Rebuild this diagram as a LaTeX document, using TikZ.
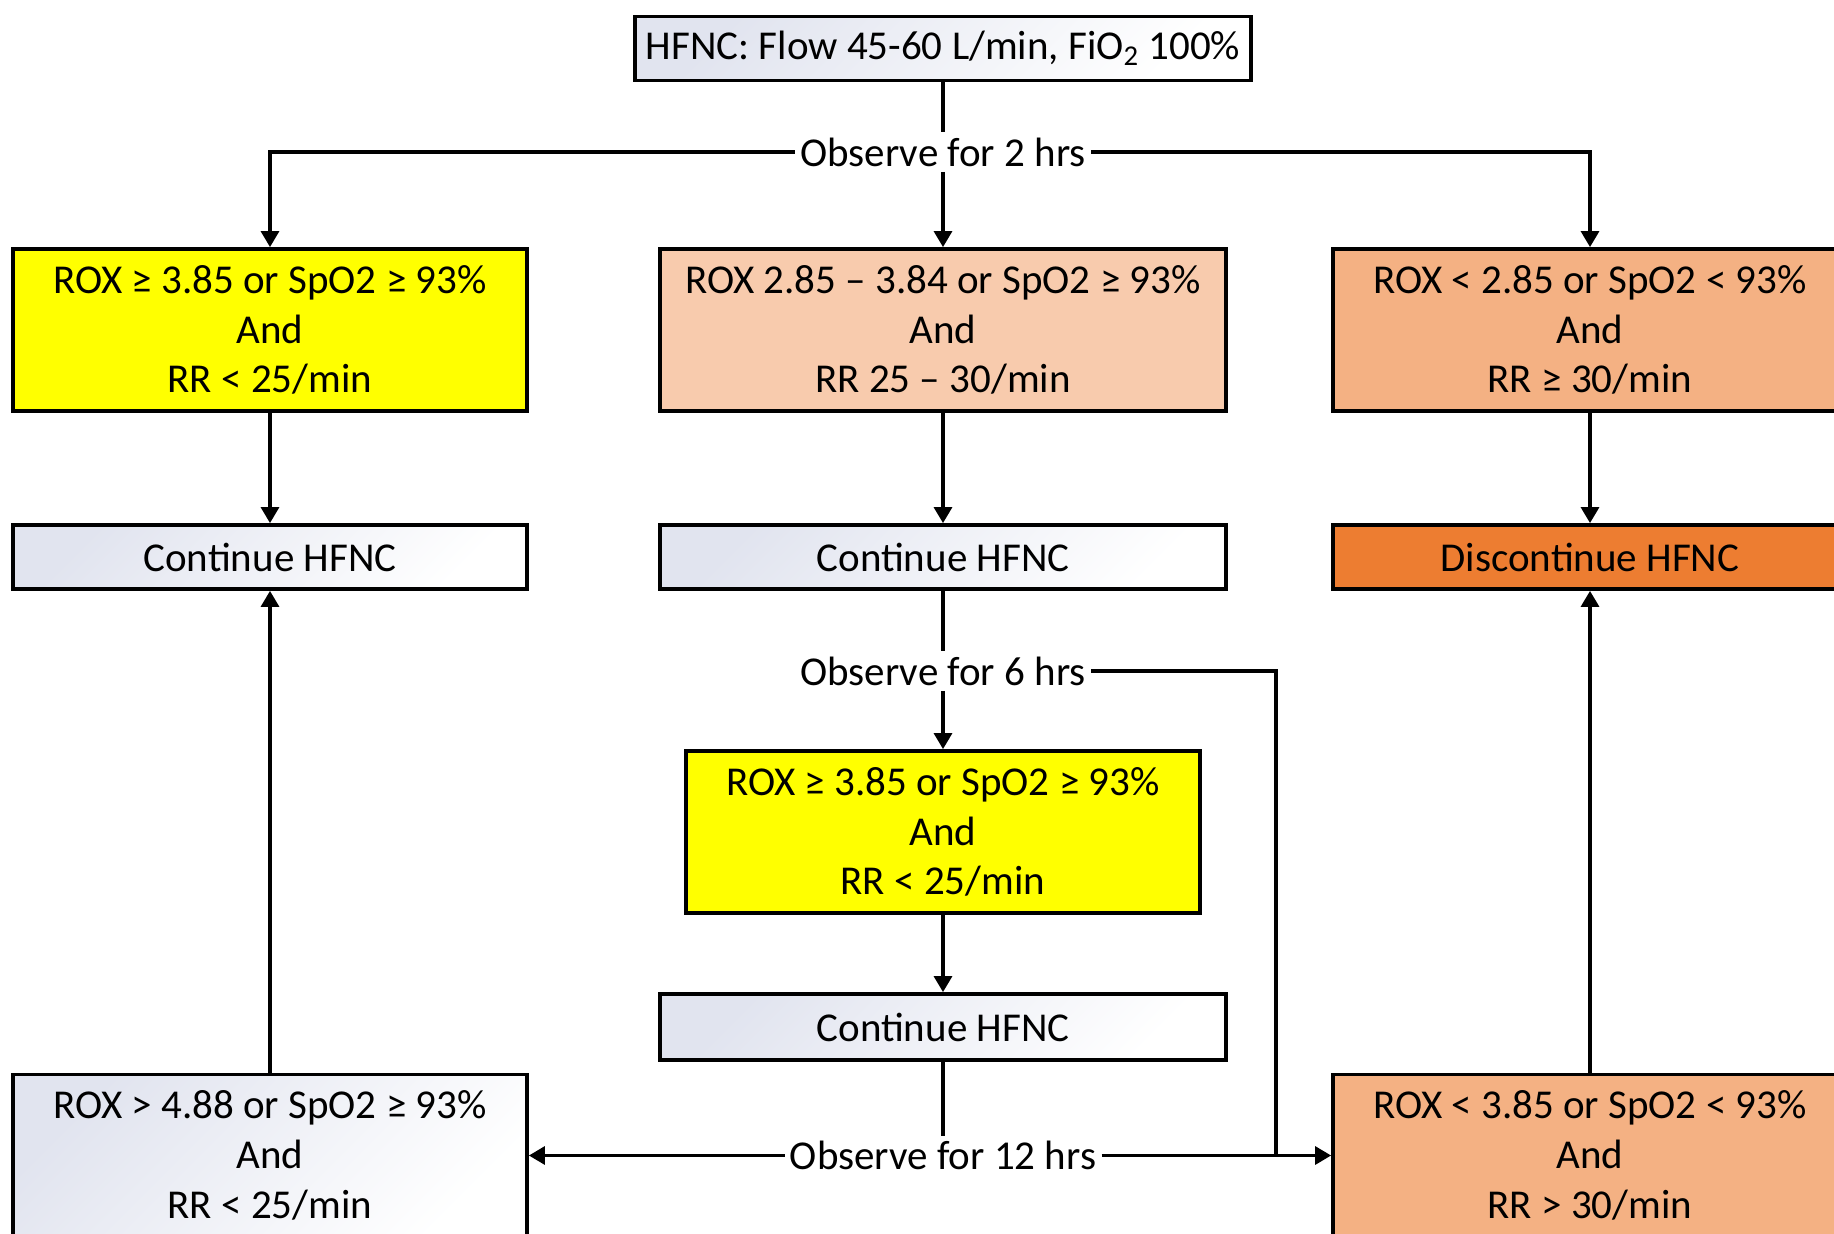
\documentclass[tikz,border=0pt]{standalone}
\usepackage{fontspec}
\setmainfont{Carlito}
\usetikzlibrary{arrows.meta}
\definecolor{boxgrey}{HTML}{E1E4EF}
\definecolor{okyellow}{HTML}{FFFF00}
\definecolor{midpeach}{HTML}{F8CBAD}
\definecolor{badsalmon}{HTML}{F4B183}
\definecolor{stoporange}{HTML}{ED7D31}

\begin{document}
\begin{tikzpicture}[x=.5pt,y=-.5pt,
    box/.style={draw,line width=1.9pt,align=center,inner sep=0pt,
      font=\fontsize{20.5}{24.9}\selectfont},
    plain/.style={box,top color=boxgrey,bottom color=white,shading angle=45},
    note/.style={fill=white,inner sep=2.5pt,font=\fontsize{20.5}{24.9}\selectfont},
    flow/.style={line width=1.6pt,-{Triangle[length=8pt,width=9pt]}},
    link/.style={line width=1.6pt}]
  \useasboundingbox (0,0) rectangle (1834,1234);
  % boxes
  \node[plain,minimum width=308pt,minimum height=32pt] (start) at (943,48.5)
    {HFNC: Flow 45-60 L/min, FiO\textsubscript{2} 100\%};
  \node[note] (obs2) at (943,152) {Observe for 2 hrs};
  \node[box,fill=okyellow,minimum width=257pt,minimum height=81pt] (r1l) at (270,330)
    {ROX ≥ 3.85 or SpO2 ≥ 93\%\\And\\RR < 25/min};
  \node[box,fill=midpeach,minimum width=283pt,minimum height=81pt] (r1m) at (943,330)
    {ROX 2.85 -- 3.84 or SpO2 ≥ 93\%\\And\\RR 25 -- 30/min};
  \node[box,fill=badsalmon,minimum width=257pt,minimum height=81pt] (r1r) at (1590,330)
    {ROX < 2.85 or SpO2 < 93\%\\And\\RR ≥ 30/min};
  \node[plain,minimum width=257pt,minimum height=32pt] (r2l) at (270,557) {Continue HFNC};
  \node[plain,minimum width=283pt,minimum height=32pt] (r2m) at (943,557) {Continue HFNC};
  \node[box,fill=stoporange,minimum width=257pt,minimum height=32pt] (r2r) at (1590,557)
    {Discontinue HFNC};
  \node[note] (obs6) at (943,671) {Observe for 6 hrs};
  \node[box,fill=okyellow,minimum width=257pt,minimum height=81pt] (r3m) at (943,832)
    {ROX ≥ 3.85 or SpO2 ≥ 93\%\\And\\RR < 25/min};
  \node[plain,minimum width=283pt,minimum height=33pt] (r4m) at (943,1027) {Continue HFNC};
  \node[note] (obs12) at (943,1155.5) {Observe for 12 hrs};
  \node[plain,minimum width=257pt,minimum height=81pt] (r5l) at (270,1155.5)
    {ROX > 4.88 or SpO2 ≥ 93\%\\And\\RR < 25/min};
  \node[box,fill=badsalmon,minimum width=257pt,minimum height=81pt] (r5r) at (1590,1155.5)
    {ROX < 3.85 or SpO2 < 93\%\\And\\RR > 30/min};
  \coordinate (bend) at (1276,1155.5);
  % connectors
  \draw[link] (start.south) -- (obs2.north);
  \draw[flow] (obs2.west) -| (r1l.north);
  \draw[flow] (obs2.south) -- (r1m.north);
  \draw[flow] (obs2.east) -| (r1r.north);
  \draw[flow] (r1l) -- (r2l);
  \draw[flow] (r1m) -- (r2m);
  \draw[flow] (r1r) -- (r2r);
  \draw[link] (r2m.south) -- (obs6.north);
  \draw[flow] (obs6.south) -- (r3m.north);
  \draw[link] (obs6.east) -| (bend);
  \draw[flow] (r3m) -- (r4m);
  \draw[link] (r4m.south) -- (obs12.north);
  \draw[flow] (obs12.west) -- (r5l.east);
  \draw[flow] (obs12.east) -- (r5r.west);
  \draw[flow] (r5l) -- (r2l);
  \draw[flow] (r5r) -- (r2r);
\end{tikzpicture}
\end{document}
